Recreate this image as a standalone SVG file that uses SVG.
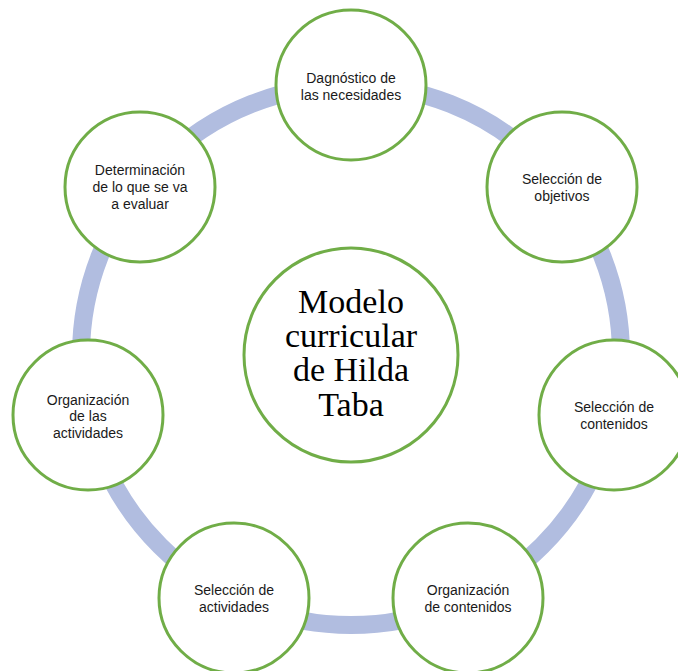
<svg xmlns="http://www.w3.org/2000/svg" width="678" height="671" viewBox="0 0 678 671">
<style>
.node{fill:#FFFFFF;stroke:#70AD47;stroke-width:3}
.lbl{font-family:"Liberation Sans",Arial,sans-serif;font-size:14px;fill:#1A1A1A;text-anchor:middle}
.ctr{font-family:"Liberation Serif","Times New Roman",serif;font-size:34px;fill:#000000;text-anchor:middle}
</style>
<rect width="678" height="671" fill="#FFFFFF"/>
<g id="connectors">
<circle cx="351" cy="355" r="270" fill="none" stroke="#B1BDE0" stroke-width="18"/>
</g>
<g id="center">
<circle class="node" cx="351" cy="355" r="107"/>
<text class="ctr" x="351" y="313">Modelo</text>
<text class="ctr" x="351" y="347">curricular</text>
<text class="ctr" x="351" y="381">de Hilda</text>
<text class="ctr" x="351" y="416">Taba</text>
</g>
<g id="n1">
<circle class="node" cx="351" cy="85" r="75"/>
<text class="lbl" x="351" y="83">Dagnóstico de</text>
<text class="lbl" x="351" y="100">las necesidades</text>
</g>
<g id="n2">
<circle class="node" cx="562" cy="187" r="75"/>
<text class="lbl" x="562" y="184">Selección de</text>
<text class="lbl" x="562" y="201">objetivos</text>
</g>
<g id="n3">
<circle class="node" cx="614" cy="415" r="75"/>
<text class="lbl" x="614" y="412">Selección de</text>
<text class="lbl" x="614" y="429">contenidos</text>
</g>
<g id="n4">
<circle class="node" cx="468" cy="598" r="75"/>
<text class="lbl" x="468" y="595">Organización</text>
<text class="lbl" x="468" y="612">de contenidos</text>
</g>
<g id="n5">
<circle class="node" cx="234" cy="598" r="75"/>
<text class="lbl" x="234" y="595">Selección de</text>
<text class="lbl" x="234" y="612">actividades</text>
</g>
<g id="n6">
<circle class="node" cx="88" cy="415" r="75"/>
<text class="lbl" x="88" y="405">Organización</text>
<text class="lbl" x="88" y="421">de las</text>
<text class="lbl" x="88" y="438">actividades</text>
</g>
<g id="n7">
<circle class="node" cx="140" cy="187" r="75"/>
<text class="lbl" x="140" y="175">Determinación</text>
<text class="lbl" x="140" y="192">de lo que se va</text>
<text class="lbl" x="140" y="209">a evaluar</text>
</g>
</svg>
